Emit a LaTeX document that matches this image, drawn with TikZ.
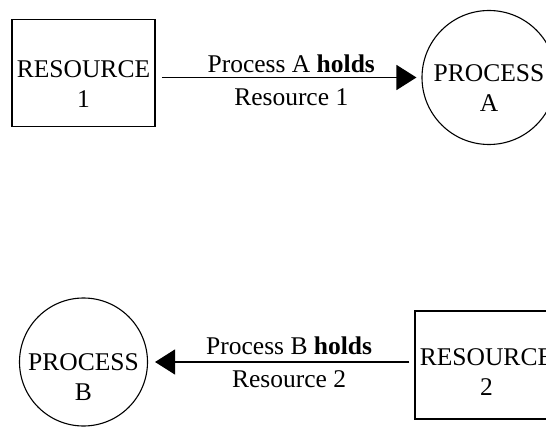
\documentclass[tikz,border=0pt]{standalone}
\usepackage{fontspec}
\setmainfont{Liberation Serif}
\usetikzlibrary{arrows.meta}
\begin{document}
\begin{tikzpicture}[x=1pt, y=-1pt,
  every node/.style={font=\fontsize{25.5}{30}\selectfont, inner sep=0pt},
  resbox/.style={draw, line width=1.5pt, minimum width=143pt, minimum height=107pt},
  procnode/.style={draw, circle, line width=1.1pt, minimum size=#1},
  caption/.style={align=center},
  holds/.style={line width=1.4pt, -{Triangle[length=20pt, width=25pt]}}]
  \useasboundingbox (0,0) rectangle (546,430);
  \clip (0,0) rectangle (546,430);

  % upper pair: resource 1 held by process A
  \node[resbox] (r1) at (83.5,73) {};
  \node[caption] (r1t) at ([yshift=-11pt] r1.center) {RESOURCE\\1};
  \node[procnode=134pt] (pa) at (489,77.5) {};
  \node[caption] (pat) at ([yshift=-11pt] pa.center) {PROCESS\\A};
  \draw[holds, shorten <=6pt, shorten >=5pt] (r1.east |- pa.west) -- (pa.west)
    node[pos=0.51, above=4pt] {Process A \textbf{holds}}
    node[pos=0.51, below=10pt] {Resource 1};

  % lower pair: resource 2 held by process B
  \node[resbox, minimum height=108pt] (r2) at (486.5,365) {};
  \node[caption] (r2t) at ([yshift=-7pt] r2.center) {RESOURCE\\2};
  \node[procnode=128pt] (pb) at (83.5,362) {};
  \node[caption] (pbt) at ([yshift=-15pt] pb.center) {PROCESS\\B};
  \draw[holds, shorten <=5pt, shorten >=7pt] (r2.west |- pb.east) -- (pb.east)
    node[pos=0.47, above=7pt] {Process B \textbf{holds}}
    node[pos=0.47, below=8pt] {Resource 2};
\end{tikzpicture}
\end{document}
